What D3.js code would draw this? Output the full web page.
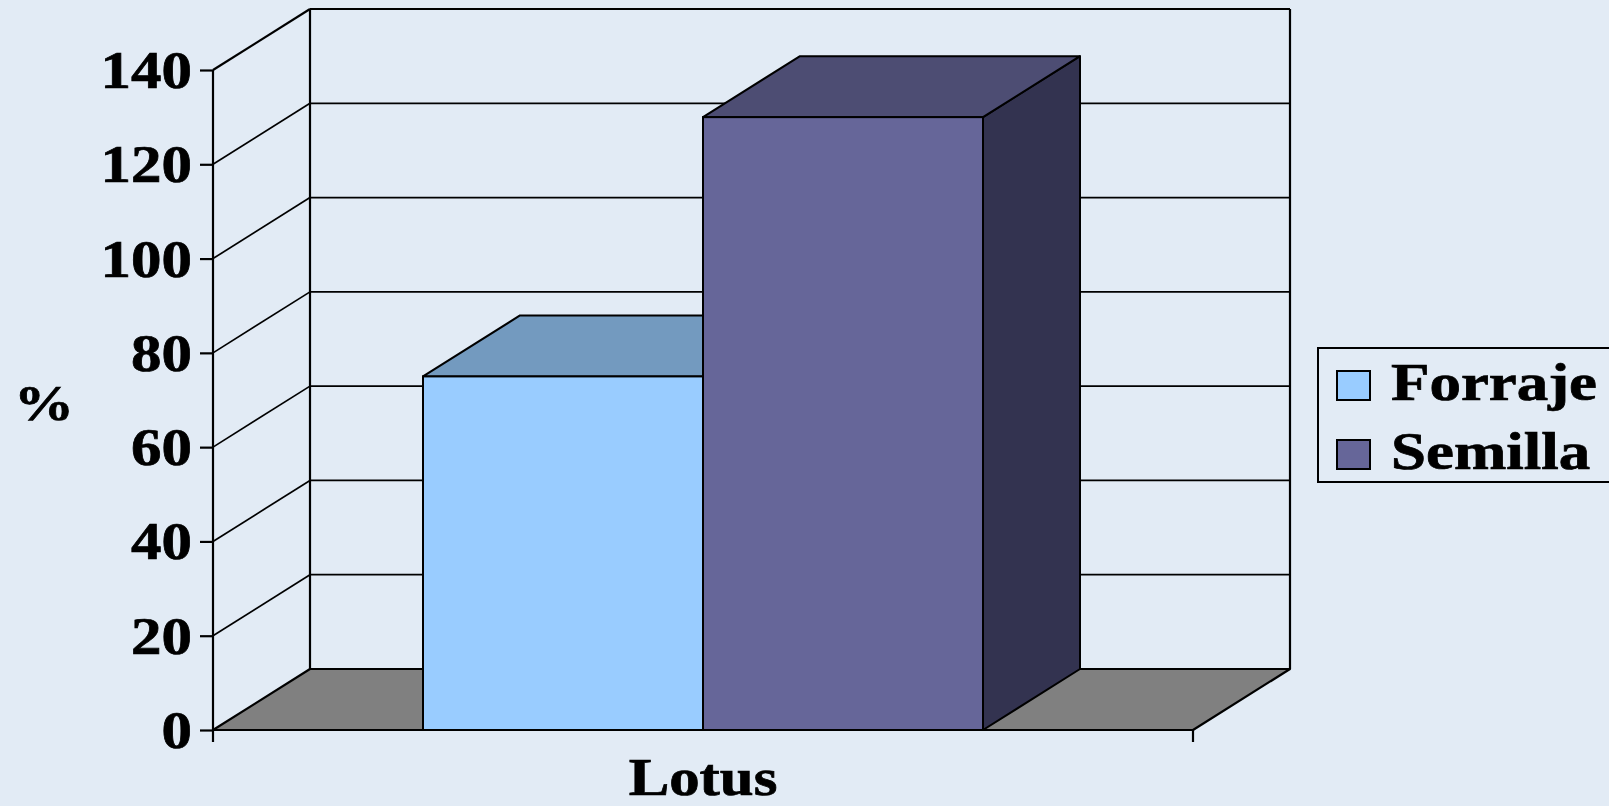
<!DOCTYPE html>
<html>
<head>
<meta charset="utf-8">
<script src="https://cdn.jsdelivr.net/npm/d3@7"></script>
<style>
  html, body { margin: 0; padding: 0; background: #e2ebf5; }
  svg { display: block; }
  text { font-family: "Liberation Serif", "Times New Roman", serif; font-weight: bold; fill: #000; stroke: #000; stroke-width: 0.7px; }
</style>
</head>
<body>
<svg id="chart" width="1609" height="806"></svg>
<script>
// données
const categories = ["Lotus"];
const series = ["Forraje", "Semilla"];
const valeurs = [75, 130];
const yTicks = [0, 20, 40, 60, 80, 100, 120, 140];
const couleursFace = ["#99ccff", "#666699"];
const couleursDessus = ["#739abf", "#4d4d73"];
const couleursCote = ["#4d6680", "#333350"];

const svg = d3.select("#chart");

// profondeur de l'effet 3D
const dx = 97, dy = -61;
const etirement = 1.15;

// échelles
const y = d3.scaleLinear().domain([0, 140]).range([730, 70]);
const x = d3.scaleBand().domain(categories).range([213, 1193]);
const xs = d3.scaleBand().domain(series).range(x.range()).paddingInner(0).paddingOuter(0.75);

const x0 = x.range()[0], x1 = x.range()[1];

const fond = svg.append("g");

// murs : lignes de la grille sur le mur gauche et le mur du fond
yTicks.filter(t => t > 0).forEach(t => {
    fond.append("line")
        .attr("x1", x0).attr("y1", y(t))
        .attr("x2", x0 + dx).attr("y2", y(t) + dy)
        .attr("stroke", "#000").attr("stroke-width", t === 140 ? 2.2 : 1.7);
    fond.append("line")
        .attr("x1", x0 + dx).attr("y1", y(t) + dy)
        .attr("x2", x1 + dx).attr("y2", y(t) + dy)
        .attr("stroke", "#000").attr("stroke-width", t === 140 ? 2.2 : 1.7);
});

// arêtes verticales du mur du fond
[x0 + dx, x1 + dx].forEach(xx => {
    fond.append("line")
        .attr("x1", xx).attr("y1", y(140) + dy)
        .attr("x2", xx).attr("y2", y(0) + dy)
        .attr("stroke", "#000").attr("stroke-width", 2.2);
});

// sol
fond.append("polygon")
    .attr("points", [[x0, y(0)], [x0 + dx, y(0) + dy], [x1 + dx, y(0) + dy], [x1, y(0)]].join(" "))
    .attr("fill", "#808080")
    .attr("stroke", "#000")
    .attr("stroke-width", 2.2)
    .attr("stroke-linejoin", "round");

// axe y
const yAxis = d3.axisLeft(y).tickValues(yTicks).tickSize(13).tickPadding(0).tickFormat(d3.format("d"));
const gy = svg.append("g")
    .attr("transform", `translate(${x0},0)`)
    .call(yAxis);
gy.select(".domain").remove();
gy.selectAll(".tick line").attr("stroke", "#000").attr("stroke-width", 2.2);
gy.selectAll(".tick text")
    .attr("x", 0)
    .attr("dy", "0.33em")
    .attr("transform", `translate(-21,0) scale(${etirement},1)`)
    .style("font-size", "53px")
    .style("font-family", "'Liberation Serif', 'Times New Roman', serif")
    .style("font-weight", "bold")
    .attr("fill", "#000")
    .attr("text-anchor", "end");

svg.append("line")
    .attr("x1", x0).attr("y1", y(140))
    .attr("x2", x0).attr("y2", y(0) + 12)
    .attr("stroke", "#000").attr("stroke-width", 2.2);

// axe x : ligne avant et graduations
svg.append("line")
    .attr("x1", x0).attr("y1", y(0))
    .attr("x2", x1).attr("y2", y(0))
    .attr("stroke", "#000").attr("stroke-width", 2.2);
svg.append("line")
    .attr("x1", x1).attr("y1", y(0))
    .attr("x2", x1).attr("y2", y(0) + 12)
    .attr("stroke", "#000").attr("stroke-width", 2.2);

// barres 3D
const barres = svg.selectAll("g.barre")
    .data(series.map((s, i) => ({ serie: s, valeur: valeurs[i], i: i })))
    .enter()
    .append("g")
    .attr("class", "barre");

barres.each(function (d) {
    const g = d3.select(this);
    const gx = xs(d.serie), gw = xs.bandwidth();
    const top = y(d.valeur), bas = y(0);
    // côté droit
    g.append("polygon")
        .attr("points", [[gx + gw, bas], [gx + gw + dx, bas + dy], [gx + gw + dx, top + dy], [gx + gw, top]].join(" "))
        .attr("fill", couleursCote[d.i]).attr("stroke", "#000").attr("stroke-width", 2).attr("stroke-linejoin", "round");
    // dessus
    g.append("polygon")
        .attr("points", [[gx, top], [gx + dx, top + dy], [gx + gw + dx, top + dy], [gx + gw, top]].join(" "))
        .attr("fill", couleursDessus[d.i]).attr("stroke", "#000").attr("stroke-width", 2).attr("stroke-linejoin", "round");
    // face avant
    g.append("rect")
        .attr("x", gx).attr("y", top)
        .attr("width", gw).attr("height", bas - top)
        .attr("fill", couleursFace[d.i]).attr("stroke", "#000").attr("stroke-width", 2);
});

// titres des axes
svg.append("text")
    .attr("transform", `translate(44,420) scale(1.2,1)`)
    .attr("text-anchor", "middle")
    .style("font-size", "50px")
    .text("%");

svg.selectAll("text.cat")
    .data(categories)
    .enter()
    .append("text")
    .attr("class", "cat")
    .attr("transform", d => `translate(${x(d) + x.bandwidth() / 2},795) scale(1.17,1)`)
    .attr("text-anchor", "middle")
    .style("font-size", "52px")
    .text(d => d);

// légende
const leg = svg.append("g");
leg.append("rect")
    .attr("x", 1318).attr("y", 348)
    .attr("width", 320).attr("height", 134)
    .attr("fill", "none").attr("stroke", "#000").attr("stroke-width", 2);

series.forEach((s, i) => {
    leg.append("rect")
        .attr("x", 1337).attr("y", 371 + i * 69)
        .attr("width", 33).attr("height", 29)
        .attr("fill", couleursFace[i]).attr("stroke", "#000").attr("stroke-width", 2);
    leg.append("text")
        .attr("transform", `translate(1391,${400 + i * 69}) scale(1.21,1)`)
        .style("font-size", "52px")
        .text(s);
});
</script>
</body>
</html>
